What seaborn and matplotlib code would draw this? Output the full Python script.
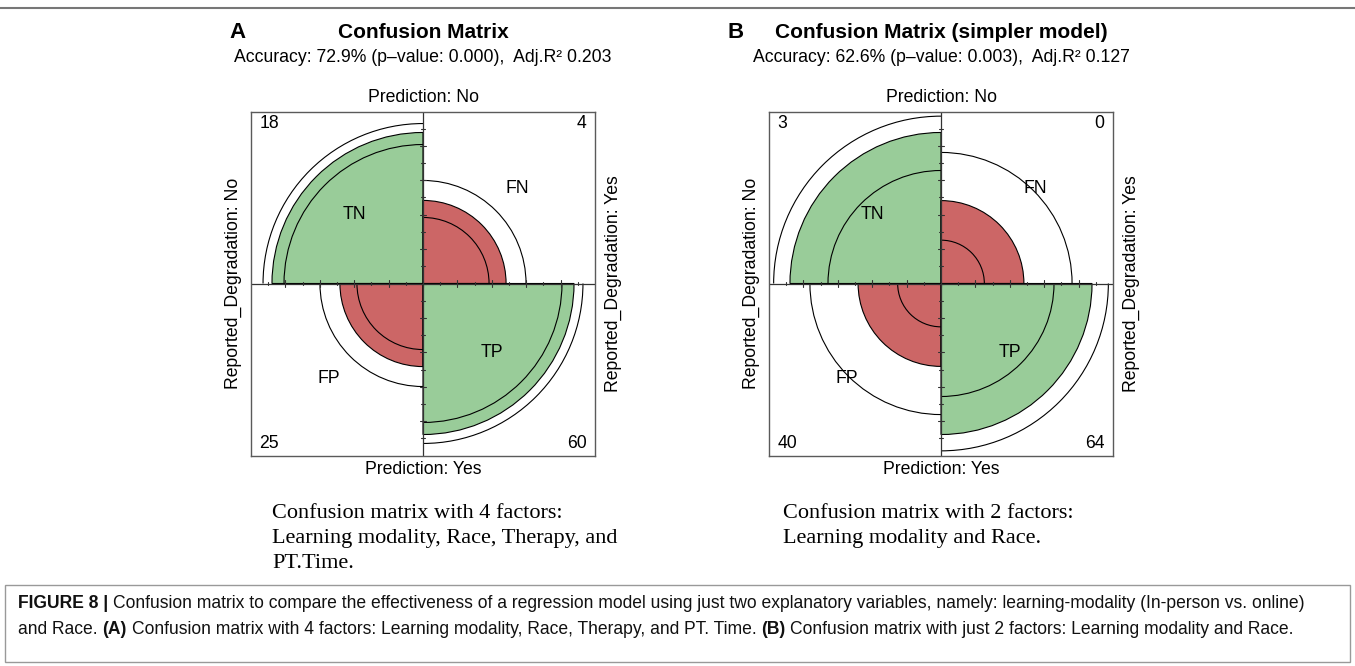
import numpy as np
import matplotlib
matplotlib.use("Agg")
import matplotlib.pyplot as plt
from matplotlib.patches import Wedge, Arc, Rectangle
from matplotlib.lines import Line2D
from matplotlib import font_manager
import seaborn as sns

sns.set_theme(style="white")
plt.rcParams["font.family"] = ["Liberation Sans", "DejaVu Sans"]
plt.rcParams["text.color"] = "black"

W, H = 1355, 666

# --- values ---
quadrants = ["TN", "FN", "FP", "TP"]
counts_a = [18, 4, 25, 60]
counts_b = [3, 0, 40, 64]
# quarter-circle radii (fill, lower ring, upper ring), in units of the half box
fill_a = [0.878, 0.483, 0.483, 0.878]
ring_lo_a = [0.808, 0.384, 0.384, 0.808]
ring_hi_a = [0.930, 0.599, 0.599, 0.930]
fill_b = [0.878, 0.482, 0.482, 0.878]
ring_lo_b = [0.657, 0.252, 0.252, 0.657]
ring_hi_b = [0.973, 0.762, 0.762, 0.973]

titles = ["Confusion Matrix", "Confusion Matrix (simpler model)"]
subtitles = ["Accuracy: 72.9% (p\u2013value: 0.000),  Adj.R\u00b2 0.203",
             "Accuracy: 62.6% (p\u2013value: 0.003),  Adj.R\u00b2 0.127"]
notes_a = ["Confusion matrix with 4 factors:",
           "Learning modality, Race, Therapy, and",
           "PT.Time."]
notes_b = ["Confusion matrix with 2 factors:",
           "Learning modality and Race."]

RED, GREEN = "#CC6666", "#99CC99"
angles = {"TN": (90, 180), "FN": (0, 90), "FP": (180, 270), "TP": (270, 360)}
colors = {"TN": GREEN, "FN": RED, "FP": RED, "TP": GREEN}
label_pos = {"TN": (-0.40, 0.40), "FN": (0.55, 0.55), "FP": (-0.55, -0.55), "TP": (0.40, -0.40)}
corner = {"TN": (-0.95, 0.93, "left"), "FN": (0.95, 0.93, "right"),
          "FP": (-0.95, -0.93, "left"), "TP": (0.95, -0.93, "right")}

fig = plt.figure(figsize=(W / 100, H / 100), dpi=100)
fig.patch.set_facecolor("white")


def fx(x):
    return x / W


def fy(y):
    return 1 - y / H


HALF, CY = 172, 283.5
FS = 12.7


def fourfold(cx, counts, fill, lo, hi):
    ax = fig.add_axes([fx(cx - HALF), fy(CY + HALF), 2 * HALF / W, 2 * HALF / H])
    ax.set_xlim(-1, 1)
    ax.set_ylim(-1, 1)
    ax.set_xticks([])
    ax.set_yticks([])
    for s in ax.spines.values():
        s.set_color("#5a5a5a")
        s.set_linewidth(1.0)
    for q, n, r, r0, r1 in zip(quadrants, counts, fill, lo, hi):
        t1, t2 = angles[q]
        ax.add_patch(Wedge((0, 0), r, t1, t2, facecolor=colors[q], edgecolor="black", lw=0.8))
        for rr in (r0, r1):
            ax.add_patch(Arc((0, 0), 2 * rr, 2 * rr, theta1=t1, theta2=t2, color="black", lw=0.8))
        x, y = label_pos[q]
        ax.text(x, y, q, ha="center", va="center", fontsize=FS)
        x, y, ha = corner[q]
        ax.text(x, y, str(n), ha=ha, va="center", fontsize=FS)
    ax.axhline(0, color="#333333", lw=0.9)
    ax.axvline(0, color="#333333", lw=0.9)
    for j in np.arange(-0.8, 0.81, 0.2):
        ax.plot([j, j], [-0.02, 0.02], color="#333333", lw=0.8)
        ax.plot([-0.02, 0.02], [j, j], color="#333333", lw=0.8)
    for j in np.arange(-0.9, 0.91, 0.2):
        ax.plot([j, j], [-0.01, 0.01], color="#333333", lw=0.8)
        ax.plot([-0.01, 0.01], [j, j], color="#333333", lw=0.8)
    fig.text(fx(cx), fy(97), "Prediction: No", ha="center", va="center", fontsize=FS)
    fig.text(fx(cx), fy(470), "Prediction: Yes", ha="center", va="center", fontsize=FS)
    fig.text(fx(cx - 190), fy(CY), "Reported_Degradation: No", rotation=90,
             ha="center", va="center", fontsize=FS)
    fig.text(fx(cx + 190), fy(CY), "Reported_Degradation: Yes", rotation=90,
             ha="center", va="center", fontsize=FS)
    return ax


panels = [(423, 237, "A", counts_a, fill_a, ring_lo_a, ring_hi_a, 272, notes_a),
          (941, 736, "B", counts_b, fill_b, ring_lo_b, ring_hi_b, 783, notes_b)]

for i, (cx, lx, letter, cnt, fl, lo, hi, nx, notes) in enumerate(panels):
    fourfold(cx, cnt, fl, lo, hi)
    fig.text(fx(lx), fy(33), letter, ha="center", va="center", fontsize=16, fontweight="bold")
    fig.text(fx(cx), fy(33), titles[i], ha="center", va="center", fontsize=15, fontweight="bold")
    fig.text(fx(cx), fy(58), subtitles[i], ha="center", va="center", fontsize=FS)
    for k, line in enumerate(notes):
        fig.text(fx(nx), fy(514 + 25 * k), line, ha="left", va="center", fontsize=16,
                 family=["Liberation Serif", "DejaVu Serif"])

# frame lines
fig.add_artist(Line2D([0, 1], [fy(8), fy(8)], color="#777777", lw=1.5))
fig.add_artist(Rectangle((fx(5), fy(662)), fx(1345), (662 - 585) / H, fill=False,
                         edgecolor="#999999", lw=1.0))

# figure caption
names = {f.name for f in font_manager.fontManager.ttflist}
cap_family = "Liberation Sans Narrow" if "Liberation Sans Narrow" in names else "Liberation Sans"
renderer = fig.canvas.get_renderer()

cap1 = [("FIGURE 8 |", "bold"),
        ("Confusion matrix to compare the effectiveness of a regression model using just two "
         "explanatory variables, namely: learning-modality (In-person vs. online)", "normal")]
cap2 = [("and Race.", "normal"), ("(A)", "bold"),
        ("Confusion matrix with 4 factors: Learning modality, Race, Therapy, and PT. Time.", "normal"),
        ("(B)", "bold"),
        ("Confusion matrix with just 2 factors: Learning modality and Race.", "normal")]


def width(txt, size, weight):
    t = fig.text(0, 0, txt, fontsize=size, fontweight=weight, family=cap_family)
    w = t.get_window_extent(renderer).width
    t.remove()
    return w


def line_width(parts, size):
    sp = width("x x", size, "normal") - width("xx", size, "normal")
    return sum(width(t, size, w) for t, w in parts) + sp * (len(parts) - 1)


def draw_line(parts, x, y, size):
    sp = width("x x", size, "normal") - width("xx", size, "normal")
    for t, w in parts:
        fig.text(fx(x), fy(y), t, fontsize=size, fontweight=w, family=cap_family,
                 ha="left", va="center", color="#111111")
        x += width(t, size, w) + sp


cap_size = 11 * (1305 - 18) / line_width(cap1, 11)
draw_line(cap1, 18, 604, cap_size)
draw_line(cap2, 18, 630, cap_size)

fig.savefig("out.png", dpi=100)
